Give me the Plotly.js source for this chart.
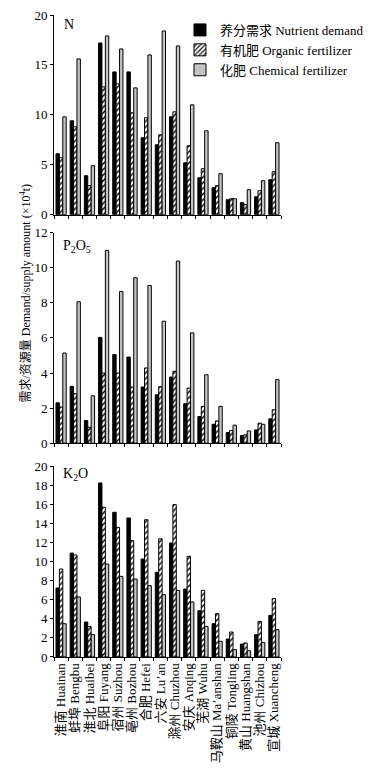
<!DOCTYPE html>
<html>
<head>
<meta charset="utf-8">
<script src="https://cdn.plot.ly/plotly-3.0.1.min.js"></script>
<style>html,body{margin:0;padding:0;background:#fff;}#chart{width:381px;height:770px;}</style>
</head>
<body>
<div id="chart"></div>
<script>
const categories = ["淮南 Huainan","蚌埠 Bengbu","淮北 Huaibei","阜阳 Fuyang","宿州 Suzhou","亳州 Bozhou","合肥 Hefei","六安 Lu\u2019an","滁州 Chuzhou","安庆 Anqing","芜湖 Wuhu","马鞍山 Ma\u2019anshan","铜陵 Tongling","黄山 Huangshan","池州 Chizhou","宣城 Xuancheng"];
const seriesNames = ["养分需求 Nutrient demand","有机肥 Organic fertilizer","化肥 Chemical fertilizer"];

const N_demand   = [6.1, 9.4, 3.9, 17.2, 14.3, 14.3, 7.7, 7.0, 9.8, 5.2, 3.7, 2.7, 1.5, 1.2, 1.8, 3.5];
const N_organic  = [5.7, 8.8, 2.9, 12.8, 13.1, 10.2, 9.7, 8.0, 10.3, 6.9, 4.6, 2.9, 1.6, 1.0, 2.4, 4.3];
const N_chemical = [9.8, 15.6, 4.9, 17.9, 16.6, 12.7, 16.0, 18.4, 16.9, 11.0, 8.4, 4.1, 1.6, 2.5, 3.4, 7.2];

const P_demand   = [2.3, 3.24, 1.29, 6.03, 5.05, 4.91, 3.2, 2.76, 3.77, 2.25, 1.52, 1.08, 0.61, 0.44, 0.76, 1.39];
const P_organic  = [2.06, 2.82, 0.91, 4.0, 4.0, 3.2, 4.29, 3.22, 4.1, 3.14, 2.1, 1.27, 0.72, 0.48, 1.14, 1.9];
const P_chemical = [5.14, 8.06, 2.70, 10.99, 8.65, 9.43, 8.99, 6.95, 10.38, 6.29, 3.9, 2.1, 1.03, 0.70, 1.08, 3.62];

const K_demand   = [7.24, 10.9, 3.67, 18.26, 15.18, 14.58, 10.28, 8.88, 11.96, 7.13, 4.86, 3.49, 1.89, 1.36, 2.34, 4.37];
const K_organic  = [9.23, 10.7, 3.2, 15.7, 13.6, 12.2, 14.4, 12.4, 15.98, 10.56, 6.99, 4.54, 2.62, 1.47, 3.74, 6.12];
const K_chemical = [3.49, 6.3, 2.34, 9.75, 8.46, 8.18, 7.48, 6.54, 6.99, 5.77, 3.21, 1.64, 0.77, 0.66, 1.53, 2.86];

const FONT = "Liberation Serif, 'Times New Roman', 'Noto Sans CJK SC', serif";

const styles = [
  {color: "#000000", line: {color: "#000000", width: 1}},
  {color: "#ffffff", line: {color: "#000000", width: 1}, pattern: {shape: "/", fgcolor: "#000000", bgcolor: "#ffffff", size: 4, solidity: 0.35}},
  {color: "#c4c4c4", line: {color: "#000000", width: 1}}
];

const panels = [
  {x: "x3", y: "y3", data: [N_demand, N_organic, N_chemical], legend: true},
  {x: "x2", y: "y2", data: [P_demand, P_organic, P_chemical], legend: false},
  {x: "x",  y: "y",  data: [K_demand, K_organic, K_chemical], legend: false}
];

const traces = [];
panels.forEach(p => {
  p.data.forEach((vals, i) => {
    traces.push({
      type: "bar",
      x: categories,
      y: vals,
      name: seriesNames[i],
      xaxis: p.x,
      yaxis: p.y,
      marker: styles[i],
      showlegend: p.legend,
      hoverinfo: "x+y+name"
    });
  });
});

const axisCommon = {
  showline: true, linecolor: "#000", linewidth: 1,
  ticks: "outside", ticklen: 3, tickcolor: "#000", tickwidth: 1,
  showgrid: false, zeroline: false,
  tickfont: {family: FONT, size: 13, color: "#000"}
};

const xCommon = Object.assign({}, axisCommon, {
  type: "category", tickmode: "linear", tick0: 0, dtick: 1,
  tickson: "boundaries", ticklen: 3, domain: [0, 1],
  tickfont: {family: FONT, size: 13, color: "#000"}
});

const layout = {
  width: 381, height: 770,
  margin: {l: 54, r: 31, t: 15, b: 113},
  paper_bgcolor: "#fff", plot_bgcolor: "#fff",
  font: {family: FONT, size: 13, color: "#000"},
  barmode: "group", bargap: 0.28, bargroupgap: 0,
  showlegend: true,
  legend: {
    x: 0.555, y: 1.0, xanchor: "left", yanchor: "top",
    bgcolor: "rgba(0,0,0,0)", borderwidth: 0,
    font: {family: FONT, size: 13, color: "#000"},
    itemwidth: 30, tracegroupgap: 0
  },
  xaxis: Object.assign({}, xCommon, {anchor: "y", tickangle: -90, showticklabels: true}),
  xaxis2: Object.assign({}, xCommon, {anchor: "y2", showticklabels: false}),
  xaxis3: Object.assign({}, xCommon, {anchor: "y3", showticklabels: false}),
  yaxis: Object.assign({}, axisCommon, {domain: [0, 0.297], range: [0, 20], dtick: 2, anchor: "x"}),
  yaxis2: Object.assign({}, axisCommon, {domain: [0.333, 0.661], range: [0, 12], dtick: 2, anchor: "x2"}),
  yaxis3: Object.assign({}, axisCommon, {domain: [0.689, 1.0], range: [0, 20], dtick: 5, anchor: "x3"}),
  annotations: [
    {text: "N", xref: "paper", yref: "paper", x: 0.035, y: 0.985, xanchor: "left", yanchor: "middle", showarrow: false, font: {family: FONT, size: 14}},
    {text: "P<sub>2</sub>O<sub>5</sub>", xref: "paper", yref: "paper", x: 0.03, y: 0.639, xanchor: "left", yanchor: "middle", showarrow: false, font: {family: FONT, size: 14}},
    {text: "K<sub>2</sub>O", xref: "paper", yref: "paper", x: 0.03, y: 0.284, xanchor: "left", yanchor: "middle", showarrow: false, font: {family: FONT, size: 14}},
    {text: "需求/资源量 Demand/supply amount (×10<sup>4</sup>t)", xref: "paper", yref: "paper", x: -0.125, y: 0.567, xanchor: "center", yanchor: "middle", textangle: -90, showarrow: false, font: {family: FONT, size: 12}}
  ]
};

Plotly.newPlot("chart", traces, layout, {displayModeBar: false, staticPlot: true});
</script>
</body>
</html>
